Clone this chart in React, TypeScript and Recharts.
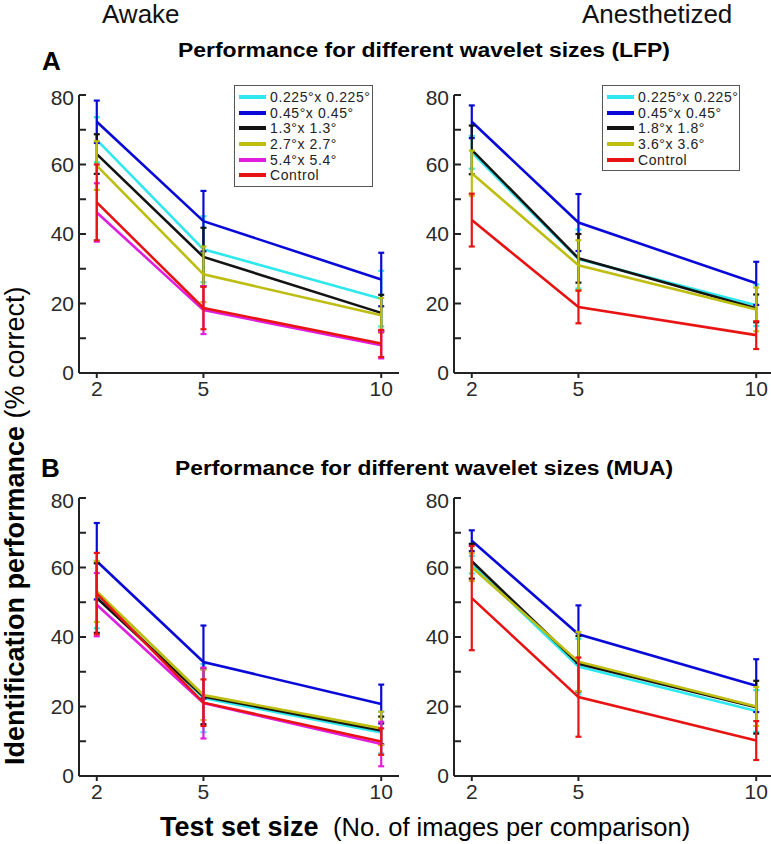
import React from 'react';
import { LineChart, Line, XAxis, YAxis, ErrorBar } from 'recharts';

// test set sizes (x positions)
const SIZES = [2, 5, 10];

const AWAKE_LABELS = ['0.225°x 0.225°', '0.45°x 0.45°', '1.3°x 1.3°', '2.7°x 2.7°', '5.4°x 5.4°', 'Control'];
const ANES_LABELS = ['0.225°x 0.225°', '0.45°x 0.45°', '1.8°x 1.8°', '3.6°x 3.6°', 'Control'];

// rows follow legend order
const AWAKE_LFP_MEAN = [
  [67.1, 35.6, 21.4],
  [72.3, 43.7, 26.9],
  [63.0, 33.4, 17.3],
  [59.7, 28.4, 16.6],
  [46.2, 18.1, 8.0],
  [49.1, 18.7, 8.5],
];
const AWAKE_LFP_ERR = [
  [6.5, 9.5, 8.0],
  [6.1, 8.7, 7.7],
  [5.7, 8.4, 5.2],
  [7.0, 8.0, 5.0],
  [8.4, 6.9, 3.8],
  [10.9, 6.1, 3.9],
];

const ANES_LFP_MEAN = [
  [63.5, 32.8, 19.5],
  [72.3, 43.3, 25.8],
  [64.2, 33.0, 18.6],
  [57.5, 31.0, 18.3],
  [44.0, 19.0, 10.9],
];
const ANES_LFP_ERR = [
  [4.7, 8.5, 6.0],
  [4.7, 8.2, 6.2],
  [7.0, 7.0, 4.0],
  [6.5, 7.2, 6.3],
  [7.6, 4.7, 4.0],
];

const AWAKE_MUA_MEAN = [
  [52.0, 22.4, 12.5],
  [61.8, 32.8, 20.7],
  [51.2, 22.9, 13.1],
  [53.1, 23.3, 13.7],
  [49.3, 21.0, 9.2],
  [52.5, 21.1, 9.9],
];
const AWAKE_MUA_ERR = [
  [9.5, 9.8, 6.0],
  [11.0, 10.5, 5.6],
  [10.0, 8.0, 4.0],
  [8.8, 7.2, 4.8],
  [9.1, 10.2, 6.4],
  [11.7, 6.7, 3.8],
];

const ANES_MUA_MEAN = [
  [60.8, 31.5, 18.7],
  [67.7, 40.8, 26.0],
  [61.8, 32.3, 19.8],
  [60.1, 32.9, 20.0],
  [51.2, 22.7, 10.2],
];
const ANES_MUA_ERR = [
  [2.5, 8.0, 6.0],
  [3.0, 8.3, 7.6],
  [5.0, 8.0, 7.6],
  [4.0, 8.5, 5.6],
  [15.0, 11.4, 5.6],
];

const Y_TICKS = [0, 10, 20, 30, 40, 50, 60, 70, 80];

const AWAKE_COLORS = ['#2ee8ee', '#0a0ad8', '#141414', '#bdbd12', '#e01ee0', '#e81414'];
const ANES_COLORS = ['#2ee8ee', '#0a0ad8', '#141414', '#bdbd12', '#e81414'];

const FONT = 'Arial, "Liberation Sans", Helvetica, sans-serif';
const AXIS = { stroke: '#222', strokeWidth: 2 };

function buildRows(means: number[][], errs: number[][]) {
  return SIZES.map((n, i) => {
    const row: any = { n };
    means.forEach((s, k) => {
      row['m' + k] = s[i];
      row['e' + k] = errs[k][i];
    });
    return row;
  });
}

type PanelProps = {
  left: number;
  top: number;
  means: number[][];
  errs: number[][];
  colors: string[];
  labels?: string[];
  legendPos?: { left: number; top: number; width: number };
};

function Panel({ left, top, means, errs, colors, labels, legendPos }: PanelProps) {
  const rows = buildRows(means, errs);
  return (
    <div style={{ position: 'absolute', left, top }}>
      <LineChart width={380} height={330} data={rows} margin={{ top: 10, right: 10, left: 0, bottom: 0 }}>
        <XAxis
          type="number"
          dataKey="n"
          domain={[1.5, 10.5]}
          ticks={SIZES}
          allowDataOverflow
          height={42}
          tickSize={5}
          tickMargin={3}
          axisLine={AXIS}
          tickLine={AXIS}
          tick={{ fill: '#2a2a2a', fontSize: 21, fontFamily: FONT }}
        />
        <YAxis
          type="number"
          domain={[0, 80]}
          ticks={Y_TICKS}
          width={50}
          tickSize={-7}
          tickMargin={12}
          axisLine={AXIS}
          tickLine={AXIS}
          tickFormatter={(v: number) => (v % 20 === 0 ? String(v) : '')}
          tick={{ fill: '#2a2a2a', fontSize: 21, fontFamily: FONT }}
        />
        {means.map((_, k) => (
          <Line
            key={k}
            type="linear"
            dataKey={'m' + k}
            stroke={colors[k]}
            strokeWidth={2.6}
            dot={false}
            isAnimationActive={false}
          >
            <ErrorBar dataKey={'e' + k} direction="y" width={3} stroke={colors[k]} strokeWidth={2.2} isAnimationActive={false} />
          </Line>
        ))}
      </LineChart>
      {labels && legendPos && (
        <div
          style={{
            position: 'absolute',
            left: legendPos.left,
            top: legendPos.top,
            width: legendPos.width,
            boxSizing: 'border-box',
            border: '1px solid #555',
            background: '#fff',
            padding: '3px 0 3px 4px',
            fontFamily: FONT,
            fontSize: 14,
            color: '#222',
          }}
        >
          {labels.map((lab, k) => (
            <div key={k} style={{ display: 'flex', alignItems: 'center', height: 15.7 }}>
              <div style={{ width: 27, height: 4, background: colors[k], marginRight: 4 }} />
              <span style={{ letterSpacing: 0.6, whiteSpace: 'nowrap' }}>{lab}</span>
            </div>
          ))}
        </div>
      )}
    </div>
  );
}

export default function App() {
  return (
    <div
      style={{
        position: 'absolute',
        left: 0,
        top: 0,
        width: 771,
        height: 844,
        overflow: 'hidden',
        background: '#fff',
        fontFamily: FONT,
      }}
    >
      <Panel left={29} top={85} means={AWAKE_LFP_MEAN} errs={AWAKE_LFP_ERR} colors={AWAKE_COLORS} labels={AWAKE_LABELS} legendPos={{ left: 205, top: 0, width: 139 }} />
      <Panel left={404} top={85} means={ANES_LFP_MEAN} errs={ANES_LFP_ERR} colors={ANES_COLORS} labels={ANES_LABELS} legendPos={{ left: 198, top: 0, width: 138 }} />
      <Panel left={29} top={488} means={AWAKE_MUA_MEAN} errs={AWAKE_MUA_ERR} colors={AWAKE_COLORS} />
      <Panel left={404} top={488} means={ANES_MUA_MEAN} errs={ANES_MUA_ERR} colors={ANES_COLORS} />

      <svg width={771} height={844} style={{ position: 'absolute', left: 0, top: 0, pointerEvents: 'none' }} fontFamily={FONT}>
        <text x={102} y={23} fontSize={26} fill="#111">Awake</text>
        <text x={582} y={23} fontSize={26} fill="#111">Anesthetized</text>
        <text x={42} y={70} fontSize={26} fontWeight="bold" fill="#000">A</text>
        <text x={41} y={477} fontSize={26} fontWeight="bold" fill="#000">B</text>
        <text x={178} y={57} fontSize={20} fontWeight="bold" fill="#000" textLength={492} lengthAdjust="spacingAndGlyphs">
          Performance for different wavelet sizes (LFP)
        </text>
        <text x={175} y={475} fontSize={20} fontWeight="bold" fill="#000" textLength={498} lengthAdjust="spacingAndGlyphs">
          Performance for different wavelet sizes (MUA)
        </text>
        <text x={160} y={836} fontSize={27} fontWeight="bold" fill="#000">Test set size</text>
        <text x={333} y={836} fontSize={25.5} fill="#000">(No. of images per comparison)</text>
        <g transform="translate(24, 765) rotate(-90)">
          <text x={0} y={0} fontSize={27} fontWeight="bold" fill="#000">
            Identification performance
            <tspan fontWeight="normal"> (% correct)</tspan>
          </text>
        </g>
      </svg>
    </div>
  );
}
